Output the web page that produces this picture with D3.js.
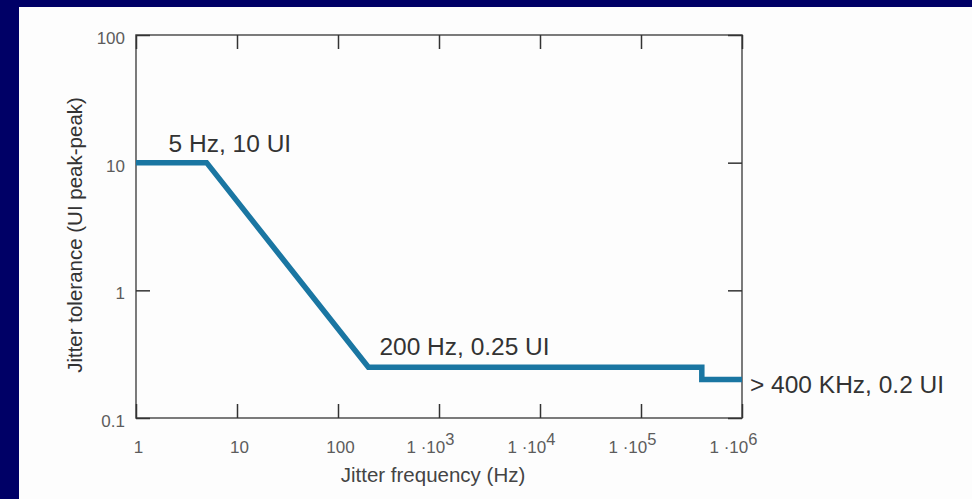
<!DOCTYPE html>
<html>
<head>
<meta charset="utf-8">
<script src="https://cdn.jsdelivr.net/npm/d3@7"></script>
<style>
  html, body { margin: 0; padding: 0; background: #000066; }
  svg { display: block; }
</style>
</head>
<body>
<svg id="chart" width="972" height="499"></svg>
<script>
// Jitter tolerance mask: breakpoints (frequency in Hz, tolerance in UI peak-peak)
const freqHz = [1, 5, 200, 4e5, 4e5, 1e6];
const tolUI  = [10, 10, 0.25, 0.25, 0.2, 0.2];

// Axis ticks
const xTicks = [1, 10, 100, 1e3, 1e4, 1e5, 1e6];
const yTicks = [0.1, 1, 10, 100];
const yTickLabels = ["0.1", "1", "10", "100"];

// Point annotations
const noteText  = ["5 Hz, 10 UI", "200 Hz, 0.25 UI", "> 400 KHz, 0.2 UI"];
const noteIndex = [1, 2, 5];

const W = 972, H = 499;
const margin = { left: 136, right: 230, top: 35, bottom: 81 };
const svg = d3.select("#chart");

// white panel over the navy backdrop
svg.append("rect").attr("x", 19).attr("y", 7).attr("width", W - 19).attr("height", H - 7).attr("fill", "#fdfdfd");

const x = d3.scaleLog().domain([1, 1e6]).range([margin.left, W - margin.right]);
const y = d3.scaleLog().domain([0.1, 100]).range([H - margin.bottom, margin.top]);

const axisColor = "#5a5a5a";
const tickLen = 14;
const font = "'Liberation Sans', Arial, sans-serif";
const tickFont = 17;
const tickColor = "#5c5c5c";

const g = svg.append("g");

// Frame
g.append("rect")
  .attr("x", x(1)).attr("y", y(100))
  .attr("width", x(1e6) - x(1)).attr("height", y(0.1) - y(100))
  .attr("fill", "none").attr("stroke", axisColor).attr("stroke-width", 1.6);

// Axes on all four sides with inward ticks
const axBottom = g.append("g").attr("transform", `translate(0,${y(0.1)})`)
  .call(d3.axisBottom(x).tickValues(xTicks).tickSizeInner(-tickLen).tickSizeOuter(0).tickFormat(() => ""));
const axTop = g.append("g").attr("transform", `translate(0,${y(100)})`)
  .call(d3.axisTop(x).tickValues(xTicks).tickSizeInner(-tickLen).tickSizeOuter(0).tickFormat(() => ""));
const axLeft = g.append("g").attr("transform", `translate(${x(1)},0)`)
  .call(d3.axisLeft(y).tickValues(yTicks).tickSizeInner(-tickLen).tickSizeOuter(0).tickFormat((d, i) => yTickLabels[i]));
const axRight = g.append("g").attr("transform", `translate(${x(1e6)},0)`)
  .call(d3.axisRight(y).tickValues(yTicks).tickSizeInner(-tickLen).tickSizeOuter(0).tickFormat(() => ""));

[axBottom, axTop, axLeft, axRight].forEach(a => {
  a.select(".domain").remove();
  a.selectAll(".tick line").attr("stroke", "#333").attr("stroke-width", 1.5);
});

axLeft.selectAll(".tick text")
  .attr("x", -11).attr("dy", "0.5em")
  .attr("font-family", font).attr("font-size", tickFont).attr("fill", tickColor);

// x tick labels, powers of ten from 1000 up shown as 1·10^n
axBottom.selectAll(".tick").each(function(d) {
  const t = d3.select(this).select("text");
  t.attr("y", 35).attr("dy", null)
   .attr("font-family", font).attr("font-size", tickFont).attr("fill", tickColor);
  if (d < 1000) {
    t.attr("text-anchor", "middle").attr("x", 2).text(String(d));
  } else {
    t.text(null).attr("text-anchor", "start").attr("x", -33);
    t.append("tspan").text("1 \u00B710");
    t.append("tspan").attr("dy", -8).attr("font-size", 16.5).text(Math.round(Math.log10(d)));
  }
});

// Axis titles
g.append("text")
  .attr("x", 433).attr("y", 482)
  .attr("text-anchor", "middle").attr("font-family", font).attr("font-size", 20.5).attr("fill", "#444")
  .text("Jitter frequency (Hz)");
g.append("text")
  .attr("transform", `translate(82,235) rotate(-90)`)
  .attr("text-anchor", "middle").attr("font-family", font).attr("font-size", 20.5).attr("fill", "#333")
  .text("Jitter tolerance (UI peak-peak)");

// Tolerance mask line
const pts = freqHz.map((f, i) => [f, tolUI[i]]);
g.append("path")
  .datum(pts)
  .attr("d", d3.line().x(d => x(d[0])).y(d => y(d[1])))
  .attr("fill", "none").attr("stroke", "#1a76a2").attr("stroke-width", 5.5)
  .attr("stroke-linejoin", "miter").attr("stroke-linecap", "butt");

// Annotations anchored to their breakpoints
const noteOffset = [[-38, -11], [11, -12], [8, 13.5]];
noteText.forEach((txt, k) => {
  const i = noteIndex[k];
  g.append("text")
    .attr("x", x(freqHz[i]) + noteOffset[k][0])
    .attr("y", y(tolUI[i]) + noteOffset[k][1])
    .attr("font-family", font).attr("font-size", 24.5).attr("fill", "#333")
    .text(txt);
});
</script>
</body>
</html>
